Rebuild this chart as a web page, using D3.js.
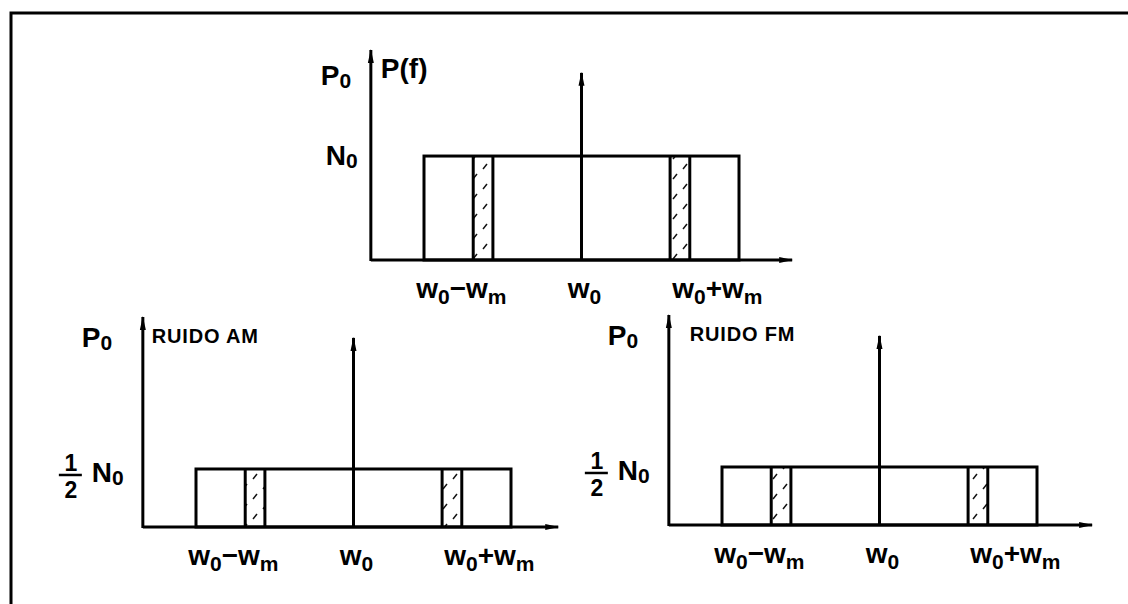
<!DOCTYPE html>
<html>
<head>
<meta charset="utf-8">
<script src="https://cdn.jsdelivr.net/npm/d3@7"></script>
<style>
  html, body { margin: 0; padding: 0; background: #fff; }
  svg { display: block; font-family: "Liberation Sans", Arial, sans-serif; font-weight: bold; }
</style>
</head>
<body>
<svg id="viz"></svg>
<script>
// spectrum data, frequency in units relative to the carrier w0
const panelNames = ["P(f)", "RUIDO AM", "RUIDO FM"];
const noiseLevel = [1, 0.5, 0.5];          // N0, 1/2 N0, 1/2 N0
const carrierHeight = [1.8, 1.63, 1.63];
const yMax = [2.02, 1.81, 1.81];
const noiseBand = [-8, 8];
const hatchBands = [[-5.5, -4.5], [4.5, 5.5]];
const xMin = -10.7;
const xMax = [10.7, 10.4, 10.8];
const tickPos = [-6.1, 0.15, 6.9];
const tickLabels = [
  [["w", 0], ["0", 1], ["\u2212", 0], ["w", 0], ["m", 1]],
  [["w", 0], ["0", 1]],
  [["w", 0], ["0", 1], ["+", 0], ["w", 0], ["m", 1]]
];

// where each panel sits on the page
const layout = [
  {left: 424, right: 739, base: 260, height: 210},
  {left: 196, right: 511, base: 527, height: 210},
  {left: 722, right: 1037, base: 525, height: 210}
];

const width = 1128, height = 604;
const svg = d3.select("#viz").attr("width", width).attr("height", height);

const defs = svg.append("defs");
const pat = defs.append("pattern")
  .attr("id", "hatch")
  .attr("patternUnits", "userSpaceOnUse")
  .attr("width", 20).attr("height", 20);
pat.selectAll("path").data([[3, 9, 7, 4], [13, 19, 17, 14]]).enter().append("path")
  .attr("d", d => `M${d[0]},${d[1]} L${d[2]},${d[3]}`)
  .attr("stroke", "#111")
  .attr("stroke-width", 1.5);

const arrow = defs.append("marker")
  .attr("id", "arr")
  .attr("viewBox", "0 0 14 8")
  .attr("refX", 13).attr("refY", 4)
  .attr("markerUnits", "userSpaceOnUse")
  .attr("markerWidth", 14).attr("markerHeight", 8)
  .attr("orient", "auto");
arrow.append("path").attr("d", "M0,1 L14,4 L0,7 Z").attr("fill", "#000");

// outer frame (open at bottom/right)
svg.append("path")
  .attr("d", d3.line()([[11, height], [11, 13], [width, 13]]))
  .attr("fill", "none").attr("stroke", "#000").attr("stroke-width", 3);

function subText(sel, parts, big, small, shift) {
  let down = false;
  parts.forEach(([t, sub]) => {
    const ts = sel.append("tspan").text(t).attr("font-size", sub ? small : big);
    if (sub && !down) { ts.attr("dy", shift); down = true; }
    else if (!sub && down) { ts.attr("dy", -shift); down = false; }
  });
}

layout.forEach((L, i) => {
  const x = d3.scaleLinear().domain(noiseBand).range([L.left, L.right]);
  const y = d3.scaleLinear().domain([0, yMax[i]]).range([L.base, L.base - L.height]);
  const g = svg.append("g");
  const sw = 3;

  // hatched bands
  g.selectAll("rect.hatch").data(hatchBands).enter().append("rect")
    .attr("x", d => x(d[0])).attr("width", d => x(d[1]) - x(d[0]))
    .attr("y", y(noiseLevel[i])).attr("height", y(0) - y(noiseLevel[i]))
    .attr("fill", "url(#hatch)");

  // noise rectangle
  g.append("rect")
    .attr("x", x(noiseBand[0])).attr("width", x(noiseBand[1]) - x(noiseBand[0]))
    .attr("y", y(noiseLevel[i])).attr("height", y(0) - y(noiseLevel[i]))
    .attr("fill", "none").attr("stroke", "#000").attr("stroke-width", sw);

  // band edges
  g.selectAll("line.edge").data(hatchBands.flat()).enter().append("line")
    .attr("x1", d => x(d)).attr("x2", d => x(d))
    .attr("y1", y(0)).attr("y2", y(noiseLevel[i]))
    .attr("stroke", "#000").attr("stroke-width", sw);

  // axes
  g.append("line")
    .attr("x1", x(xMin)).attr("x2", x(xMax[i]))
    .attr("y1", y(0)).attr("y2", y(0))
    .attr("stroke", "#000").attr("stroke-width", sw).attr("marker-end", "url(#arr)");
  g.append("line")
    .attr("x1", x(xMin)).attr("x2", x(xMin))
    .attr("y1", y(0) + 1).attr("y2", y(yMax[i]))
    .attr("stroke", "#000").attr("stroke-width", sw).attr("marker-end", "url(#arr)");

  // carrier impulse
  g.append("line")
    .attr("x1", x(0)).attr("x2", x(0))
    .attr("y1", y(0)).attr("y2", y(carrierHeight[i]))
    .attr("stroke", "#000").attr("stroke-width", sw).attr("marker-end", "url(#arr)");

  // tick labels
  g.selectAll("text.tick").data(tickPos).enter().append("text")
    .attr("x", d => x(d)).attr("y", y(0) + 38)
    .attr("text-anchor", "middle")
    .each(function(d, k) { subText(d3.select(this), tickLabels[k], 28, 21, 6); });

  const ax = x(xMin);
  if (i === 0) {
    g.append("text").attr("x", ax - 50).attr("y", 85)
      .call(s => subText(s, [["P", 0], ["0", 1]], 28, 21, 3));
    g.append("text").attr("x", ax + 10).attr("y", 78).attr("font-size", 28).text(panelNames[i]);
    g.append("text").attr("x", ax - 45).attr("y", y(noiseLevel[i]) + 9)
      .call(s => subText(s, [["N", 0], ["0", 1]], 28, 21, 3));
  } else {
    g.append("text").attr("x", ax - 61).attr("y", L.base - 180)
      .call(s => subText(s, [["P", 0], ["0", 1]], 28, 21, 3));
    g.append("text").attr("x", ax + 9 + (i === 2 ? 12 : 0)).attr("y", L.base - 184)
      .attr("font-size", 20).attr("letter-spacing", 0.8).text(panelNames[i]);
    // 1/2 N0
    const fy = y(noiseLevel[i]);
    const fx = ax - 72;
    g.append("text").attr("x", fx).attr("y", fy + 2).attr("text-anchor", "middle")
      .attr("font-size", 23).text("1");
    g.append("line").attr("x1", fx - 12).attr("x2", fx + 11)
      .attr("y1", fy + 6).attr("y2", fy + 6).attr("stroke", "#000").attr("stroke-width", 2.5);
    g.append("text").attr("x", fx).attr("y", fy + 29).attr("text-anchor", "middle")
      .attr("font-size", 23).text("2");
    g.append("text").attr("x", ax - 51).attr("y", fy + 13)
      .call(s => subText(s, [["N", 0], ["0", 1]], 28, 21, 3));
  }
});
</script>
</body>
</html>
